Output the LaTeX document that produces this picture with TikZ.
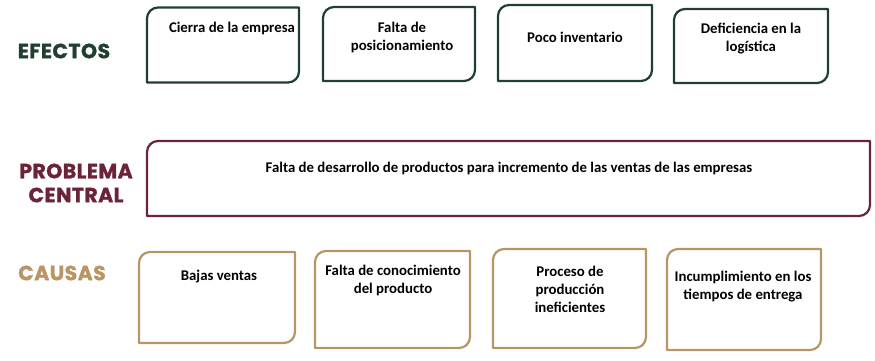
\documentclass[tikz,border=0pt]{standalone}
\usepackage{fontspec}
\setmainfont{Carlito}
\newfontfamily\headfont{Poppins}[FakeBold=1.2,LetterSpace=2]
\definecolor{cgreen}{HTML}{213F30}
\definecolor{cmaroon}{HTML}{6B2437}
\definecolor{ctan}{HTML}{B99565}
\begin{document}
\begin{tikzpicture}[x=1pt,y=1pt,
  boxnode/.style={draw=none,rectangle,inner sep=0pt,outer sep=0pt},
  lbl/.style={font=\fontsize{14.8}{18}\selectfont\bfseries,align=center,inner sep=0pt,text=black},
  head/.style={font=\headfont\fontsize{20.5}{24}\selectfont\bfseries,align=center,inner sep=0pt},
  leaf/.style={line width=2.2pt,line join=round}]
\useasboundingbox (0,0) rectangle (875,360);
% headings
\node[head,text=cgreen] (hE) at (64,309) {EFECTOS};
\node[head,text=cmaroon] (hP) at (76,177) {PROBLEMA\\CENTRAL};
\node[head,text=ctan] (hC) at (62,87) {CAUSAS};
% effect boxes
\node[boxnode,minimum width=152pt,minimum height=75pt] (e1) at (223,315) {};
\node[boxnode,minimum width=152pt,minimum height=74pt] (e2) at (399,316) {};
\node[boxnode,minimum width=154pt,minimum height=76pt] (e3) at (575,317) {};
\node[boxnode,minimum width=154pt,minimum height=74pt] (e4) at (751,314) {};
% central
\node[boxnode,minimum width=723pt,minimum height=75pt] (p) at (508.5,181.5) {};
% causes
\node[boxnode,minimum width=156pt,minimum height=91pt] (c1) at (217,62.5) {};
\node[boxnode,minimum width=155pt,minimum height=97pt] (c2) at (392.5,60.5) {};
\node[boxnode,minimum width=153pt,minimum height=99pt] (c3) at (569.5,61.5) {};
\node[boxnode,minimum width=154pt,minimum height=101pt] (c4) at (744,60.5) {};
\foreach \n/\c in {e1/cgreen,e2/cgreen,e3/cgreen,e4/cgreen,p/cmaroon,c1/ctan,c2/ctan,c3/ctan,c4/ctan}{
  \draw[leaf,draw=\c] (\n.south west) -- ([yshift=-11pt]\n.north west)
    arc[start angle=180,end angle=90,radius=11pt] -- (\n.north east)
    -- ([yshift=11pt]\n.south east) arc[start angle=0,end angle=-90,radius=11pt] -- cycle;
}
% labels
\node[lbl] (te1) at (232,332) {Cierra de la empresa};
\node[lbl] (te2) at (402,323) {Falta de\\posicionamiento};
\node[lbl] (te3) at (575,323) {Poco inventario};
\node[lbl] (te4) at (751,321) {Deficiencia en la\\log\'istica};
\node[lbl] (tp) at (509,192) {Falta de desarrollo de productos para incremento de las ventas de las empresas};
\node[lbl] (tc1) at (219,83) {Bajas ventas};
\node[lbl] (tc2) at (393,80) {Falta de conocimiento\\del producto};
\node[lbl] (tc3) at (570,71) {Proceso de\\producci\'on\\ineficientes};
\node[lbl] (tc4) at (743,73) {Incumplimiento en los\\tiempos de entrega};
\end{tikzpicture}
\end{document}
